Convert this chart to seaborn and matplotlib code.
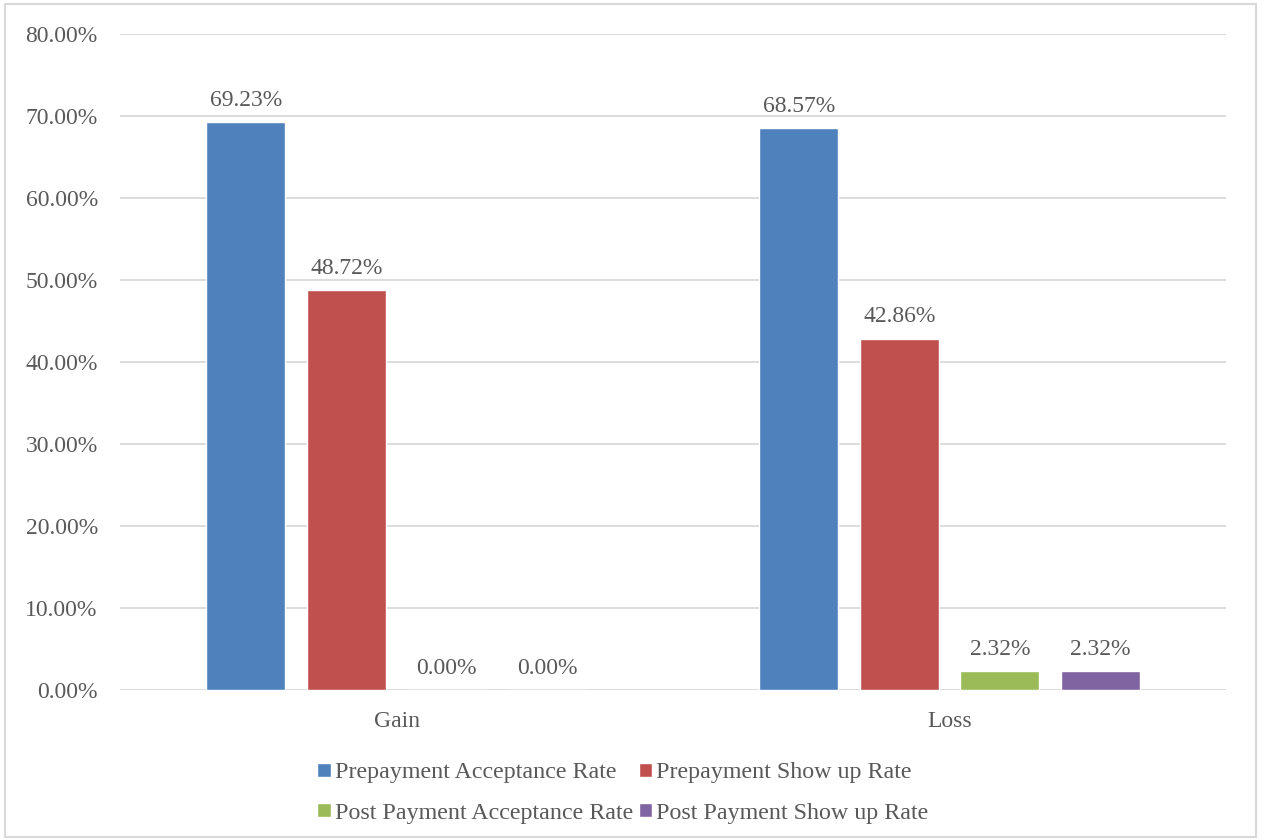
import matplotlib
matplotlib.use("Agg")
import matplotlib.pyplot as plt
import matplotlib.patches as mpatches
import seaborn as sns
import pandas as pd

categories = ["Gain", "Loss"]
series = [
    "Prepayment Acceptance Rate",
    "Prepayment Show up Rate",
    "Post Payment Acceptance Rate",
    "Post Payment Show up Rate",
]
gain_values = [0.6923, 0.4872, 0.0, 0.0]
loss_values = [0.6857, 0.4286, 0.0232, 0.0232]
colors = ["#4F81BD", "#C0504D", "#9BBB59", "#8064A2"]

rows = []
for cat, vals in zip(categories, [gain_values, loss_values]):
    for s, v in zip(series, vals):
        rows.append({"Group": cat, "Series": s, "Rate": v})
df = pd.DataFrame(rows)

sns.set_theme(style="white")
plt.rcParams["font.family"] = ["Liberation Serif", "DejaVu Serif"]
text_color = "#595959"
fs = 17

fig = plt.figure(figsize=(12.62, 8.40), dpi=100)
ax = fig.add_axes([0.0951, 0.1786, 0.8764, 0.7809])

sns.barplot(
    data=df, x="Group", y="Rate", hue="Series",
    order=categories, hue_order=series, palette=colors,
    width=0.727, gap=0.21, saturation=1, legend=True, ax=ax,
)

for container in ax.containers:
    ax.bar_label(container, labels=[f"{b.get_height() * 100:.2f}%" for b in container],
                 padding=8, fontsize=fs, color=text_color)

ax.set_ylim(0, 0.8)
ax.set_xlim(-0.5, 1.5)
ax.set_yticks([i / 10 for i in range(9)])
ax.set_yticklabels([f"{i * 10:.2f}%" for i in range(9)])
ax.yaxis.grid(True, color="#d9d9d9", linewidth=1.3)
ax.set_axisbelow(True)
for sp in ax.spines.values():
    sp.set_visible(False)
ax.tick_params(axis="y", length=0, pad=16, labelsize=fs, labelcolor=text_color)
ax.tick_params(axis="x", length=0, pad=15, labelsize=fs, labelcolor=text_color)
ax.set_xlabel("")
ax.set_ylabel("")

# two columns filled row by row: the Prepayment pair on top, Post Payment pair below
handles, labels = ax.get_legend_handles_labels()
ax.legend_.remove()
order = [0, 2, 1, 3]
fig.legend(
    [handles[i] for i in order], [labels[i] for i in order],
    loc="center", bbox_to_anchor=(0.4937, 0.0560), ncol=2,
    frameon=False, fontsize=17.3, labelcolor=text_color,
    handlelength=0.55, handleheight=0.55, handletextpad=0.17,
    columnspacing=0.25, labelspacing=0.8,
)

fig.patches.append(mpatches.Rectangle(
    (5 / 1262, 3 / 840), 1251 / 1262, 833 / 840, transform=fig.transFigure,
    fill=False, edgecolor="#d9d9d9", linewidth=1.5, zorder=0,
))

fig.savefig("out.png", dpi=100)
